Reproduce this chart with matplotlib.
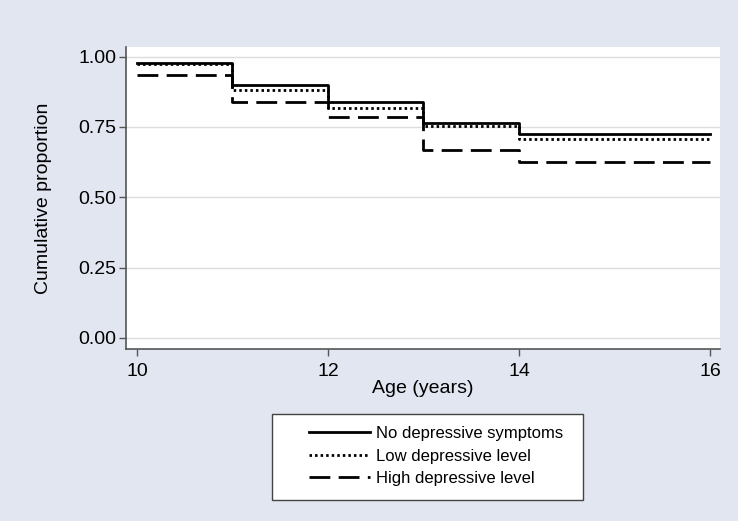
import matplotlib
matplotlib.use("Agg")
import matplotlib.pyplot as plt
from matplotlib.patches import Rectangle

plt.rcParams['font.family'] = ['Liberation Sans', 'DejaVu Sans']

ages = [10, 11, 12, 13, 14, 16]
no_symptoms = [0.978, 0.900, 0.837, 0.763, 0.725, 0.725]
low_level = [0.975, 0.883, 0.817, 0.755, 0.707, 0.707]
high_level = [0.933, 0.837, 0.785, 0.667, 0.626, 0.626]

series_labels = ["No depressive symptoms", "Low depressive level", "High depressive level"]
yticks = [0.00, 0.25, 0.50, 0.75, 1.00]
xticks = [10, 12, 14, 16]

bg = '#E2E6F0'
axis_grey = '#555555'

fig = plt.figure(figsize=(7.38, 5.21), dpi=100)
fig.patch.set_facecolor(bg)
ax = fig.add_axes([0.1707, 0.330, 0.8049, 0.5802])
ax.set_facecolor('white')

lw = 2.0
ax.step(ages, no_symptoms, where='post', color='black', lw=lw, linestyle='-', label=series_labels[0])
ax.step(ages, low_level, where='post', color='black', lw=lw, linestyle=(0, (0.9, 1.1)), label=series_labels[1])
ax.step(ages, high_level, where='post', color='black', lw=lw, linestyle=(0, (7.5, 3)), label=series_labels[2])

ax.set_xlim(9.885, 16.105)
ax.set_ylim(-0.04, 1.035)
ax.set_yticks(yticks)
ax.set_yticklabels([f"{v:.2f}" for v in yticks])
ax.set_xticks(xticks)
ax.yaxis.grid(True, color='#DDDDDD', lw=1)
ax.set_axisbelow(True)

for s in ['top', 'right']:
    ax.spines[s].set_visible(False)
for s in ['left', 'bottom']:
    ax.spines[s].set_color(axis_grey)
    ax.spines[s].set_linewidth(1.2)
ax.tick_params(direction='out', length=5, width=1, color=axis_grey, labelsize=14)
ax.tick_params(axis='y', pad=2)
ax.tick_params(axis='x', pad=5)

ax.set_xlabel("Age (years)", fontsize=14, labelpad=0)
ax.set_ylabel("Cumulative proportion", fontsize=14, labelpad=19)

# legend frame
W, H = 738, 521
fig.patches.append(Rectangle((272 / W, 1 - 500 / H), 311 / W, 86 / H, transform=fig.transFigure,
                             facecolor='white', edgecolor='#444444', lw=1.0, zorder=1))
leg = fig.legend(loc='center', bbox_to_anchor=(436 / W, 1 - 456 / H), frameon=False,
                 fontsize=12, handlelength=3.65, handletextpad=0.35, labelspacing=0.45)
leg.set_zorder(2)

fig.savefig("out.png", dpi=100, facecolor=bg)
